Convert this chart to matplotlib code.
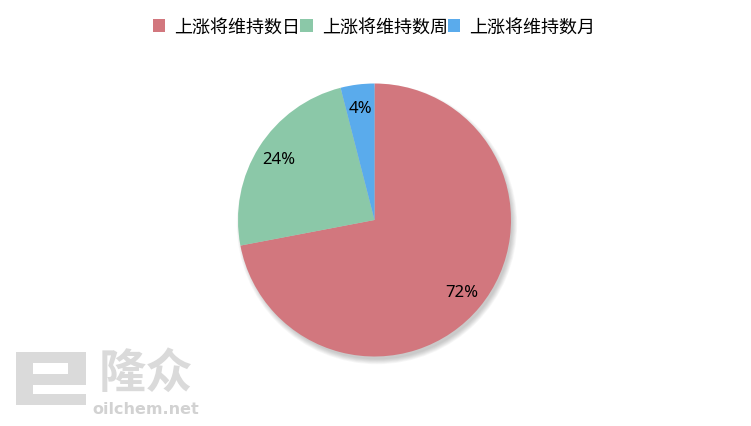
import matplotlib
matplotlib.use("Agg")
import matplotlib.pyplot as plt
from matplotlib.patches import Circle, Rectangle

plt.rcParams['font.family'] = ['Noto Sans CJK SC', 'DejaVu Sans']

categories = ['上涨将维持数日', '上涨将维持数周', '上涨将维持数月']
values = [72, 24, 4]
colors = ['#D2777E', '#8BC8A8', '#5AABEC']

W, H = 751, 427
fig = plt.figure(figsize=(W / 100, H / 100), dpi=100)
fig.patch.set_facecolor('white')

# watermark logo (pixel coordinates overlay)
wm = fig.add_axes([0, 0, 1, 1])
wm.set_xlim(0, W)
wm.set_ylim(H, 0)
wm.axis('off')
gc = '#dadada'
for (x0, y0, x1, y1) in [(16, 353, 86, 364), (16, 353, 33, 406), (68, 353, 86, 386),
                         (33, 375, 86, 386), (16, 395, 86, 406)]:
    wm.add_patch(Rectangle((x0, y0), x1 - x0, y1 - y0, color=gc, lw=0))
wm.text(146, 374, '隆众', fontsize=34, fontweight='bold', color=gc, ha='center', va='center')
wm.text(146, 410, 'oilchem.net', fontsize=11.5, fontweight='bold', color='#d2d2d2',
        ha='center', va='center', family=['DejaVu Sans'])

cx, cy, r = 374.5, 221, 136.5
k = 1.08
ax = fig.add_axes([(cx - r * k) / W, 1 - (cy + r * k) / H, 2 * r * k / W, 2 * r * k / H])
ax.set_aspect('equal')
ax.axis('off')

# soft shadow, mostly to the lower right
for i in range(7):
    ax.add_patch(Circle((0.018, -0.03), 0.985 + 0.006 * (7 - i),
                        color='black', alpha=0.03, lw=0, zorder=0))

wedges, texts, autotexts = ax.pie(values, colors=colors, startangle=90, counterclock=False,
                                  radius=1.0, autopct='%1.0f%%', pctdistance=0.83,
                                  wedgeprops=dict(linewidth=0),
                                  textprops=dict(fontsize=12, color='black'))
for t in autotexts:
    t.set_family(['Noto Sans', 'DejaVu Sans'])
ax.set_xlim(-k, k)
ax.set_ylim(-k, k)

leg = fig.legend(wedges, categories, loc='center', bbox_to_anchor=(374 / W, 1 - 28 / H),
                 ncol=3, frameon=False, fontsize=13, handlelength=0.7, handleheight=0.7,
                 handletextpad=0.5, columnspacing=0.0)

fig.savefig('out.png', dpi=100)
